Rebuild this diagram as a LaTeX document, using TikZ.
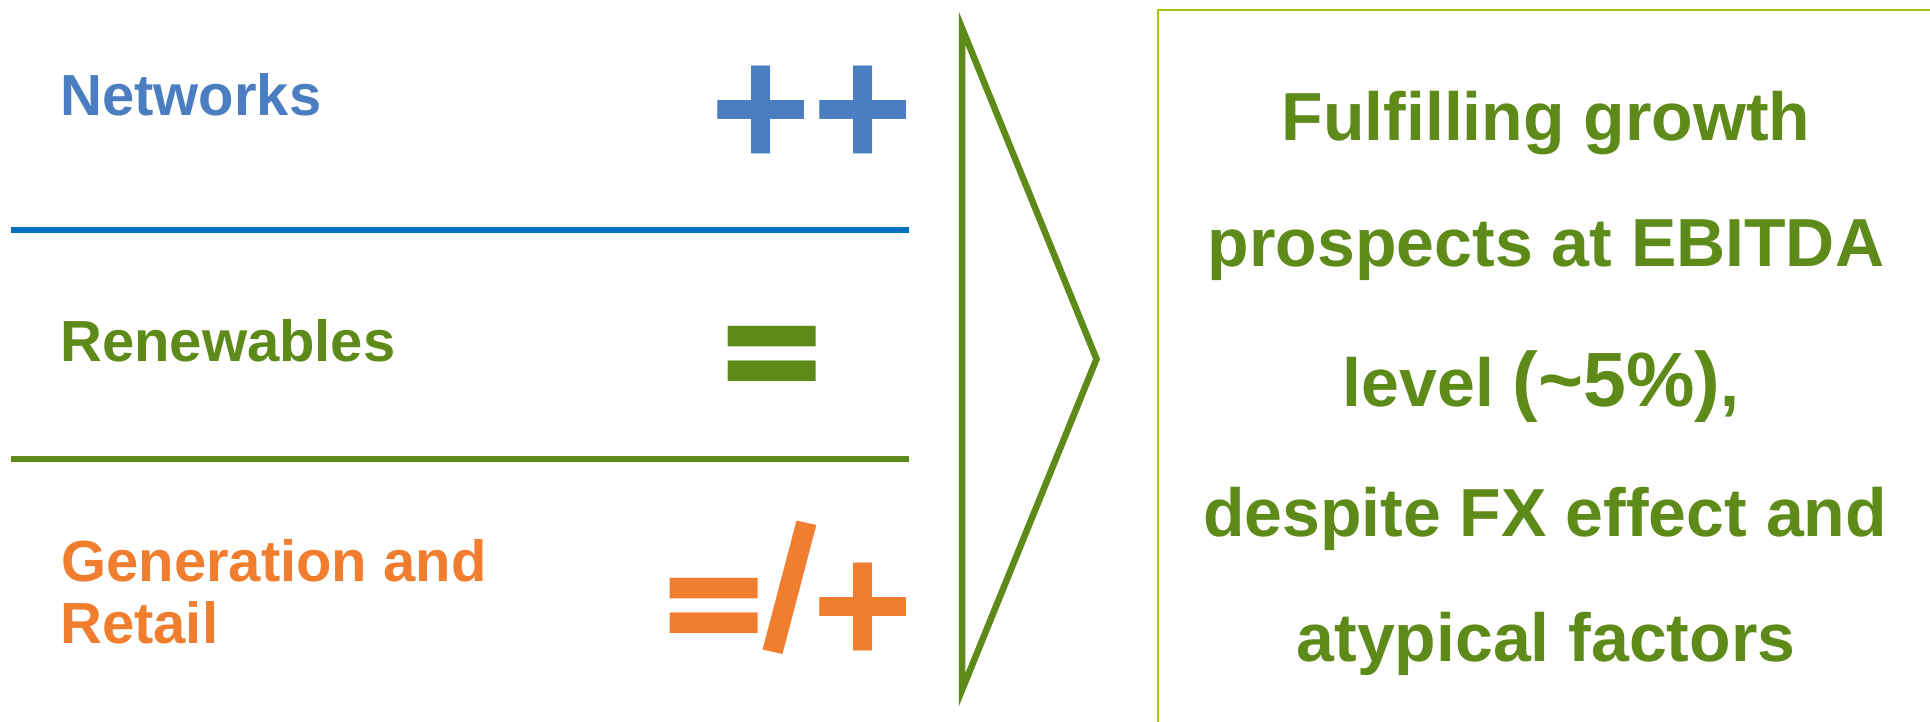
\documentclass[tikz,border=0pt]{standalone}
\usepackage{fontspec}
\setmainfont{Liberation Sans}
\newfontfamily\eqfont{Poppins}
\newfontfamily\slfont{Fira Sans}
\definecolor{nblue}{RGB}{74,126,193}
\definecolor{lblue}{RGB}{0,112,192}
\definecolor{dgreen}{RGB}{94,138,26}
\definecolor{orng}{RGB}{240,126,46}
\definecolor{lgreen}{RGB}{165,196,20}
\newcommand{\eqglyph}{{\eqfont\fontsize{136}{136}\selectfont\scalebox{1.155}[1]{=}}}
\newcommand{\slglyph}{{\slfont\fontsize{144}{144}\selectfont /}}
\begin{document}
\begin{tikzpicture}[x=1pt,y=-1pt,
  lbl/.style={anchor=base west, inner sep=0pt, font=\bfseries\fontsize{58}{62}\selectfont},
  sym/.style={anchor=north, inner sep=0pt, font=\bfseries\fontsize{173}{173}\selectfont},
  symrow/.style={anchor=base west, inner sep=0pt, font=\bfseries\fontsize{173}{173}\selectfont},
  msg/.style={anchor=base, inner sep=0pt, text=dgreen, font=\bfseries\fontsize{68}{80}\selectfont},
  sep/.style={line width=6pt}]
\useasboundingbox (0,0) rectangle (1930,722);
\fill[white] (0,0) rectangle (1930,722);
% left labels
\node[lbl, text=nblue] (net) at (60,116) {Networks};
\node[lbl, text=dgreen] (ren) at (60,361) {Renewables};
\node[lbl, text=orng] (gen1) at (61,581) {Generation and};
\node[lbl, text=orng] (gen2) at (60,643) {Retail};
% symbols
\node[sym, text=nblue] (netsym) at (812,66) {++};
\node[sym, text=dgreen] (rensym) at (772.5,326) {\eqglyph};
\node[symrow, text=orng] (gensym) at (663,650) {%
  \hspace*{50.5pt}\makebox[0pt]{\raisebox{\dimexpr 72pt-\height\relax}{\eqglyph}}%
  \hspace*{76pt}\makebox[0pt]{\raisebox{\dimexpr 62pt-(\height-\depth)/2\relax}{\slglyph}}%
  \hspace*{73pt}\makebox[0pt]{\raisebox{\dimexpr 87pt-\height\relax}{+}}%
  \hspace*{43.5pt}};
% separators
\draw[sep, lblue] (11,230) -- (909,230);
\draw[sep, dgreen] (11,459) -- (909,459);
% chevron
\draw[line width=6.5pt, dgreen, line join=miter, miter limit=20] (962,28) -- (1096.5,359) -- (962,690) -- cycle;
% box
\draw[line width=2.5pt, lgreen] (1935,10) -- (1158,10) -- (1158,730);
% message
\node[msg] (m1) at (1546,141) {Fulfilling growth};
\node[msg] (m2) at (1546,266) {prospects at EBITDA};
\node[msg] (m3) at (1541,406) {level {\fontsize{77}{80}\selectfont(\textasciitilde5\%)},};
\node[msg] (m4) at (1545,536) {despite FX effect and};
\node[msg] (m5) at (1546,661) {atypical factors};
\end{tikzpicture}
\end{document}
